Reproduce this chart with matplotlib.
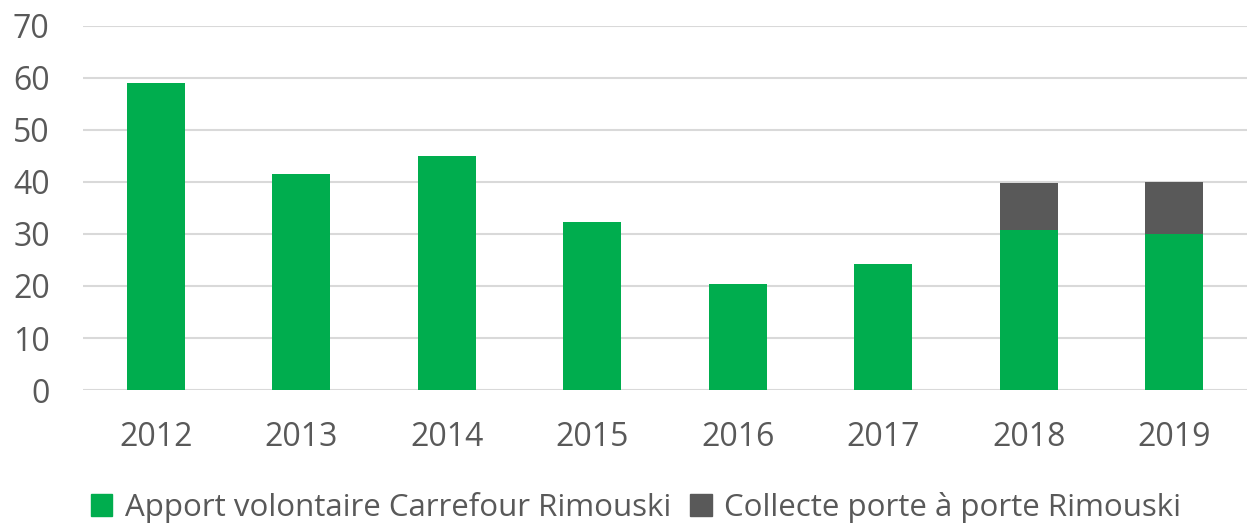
import matplotlib
matplotlib.use("Agg")
import matplotlib.pyplot as plt
import numpy as np
from matplotlib.patches import Patch

plt.rcParams['font.family'] = ['Open Sans', 'DejaVu Sans']

years = ["2012", "2013", "2014", "2015", "2016", "2017", "2018", "2019"]
apport = [59.0, 41.5, 44.9, 32.3, 20.4, 24.2, 30.7, 29.9]
collecte = [0, 0, 0, 0, 0, 0, 9.0, 10.0]
series_names = ["Apport volontaire Carrefour Rimouski", "Collecte porte à porte Rimouski"]
yticks = [0, 10, 20, 30, 40, 50, 60, 70]

green = "#00AD4E"
grey = "#595959"
txt = "#595959"

fig = plt.figure(figsize=(12.47, 5.25), dpi=100)
ax = fig.add_axes([0.0666, 0.257, 0.9334, 0.694])

x = np.arange(len(years))
ax.bar(x, apport, width=0.4, color=green, zorder=3)
ax.bar(x, collecte, width=0.4, bottom=apport, color=grey, zorder=3)

ax.set_ylim(0, 70)
ax.set_xlim(-0.5, len(years) - 0.5)
ax.set_yticks(yticks)
ax.set_xticks(x)
ax.set_xticklabels(years)
ax.yaxis.grid(True, color="#D9D9D9", linewidth=1.5, zorder=0)
ax.set_axisbelow(True)
for s in ax.spines.values():
    s.set_visible(False)
ax.tick_params(axis='both', length=0, labelsize=23, labelcolor=txt)
ax.tick_params(axis='y', pad=24)
ax.tick_params(axis='x', pad=22)

handles = [Patch(color=green), Patch(color=grey)]
fig.legend(handles, series_names, loc='center', bbox_to_anchor=(0.51, 0.034),
           ncol=2, frameon=False, fontsize=22.5, labelcolor=txt,
           handlelength=0.7, handleheight=0.7, handletextpad=0.4, columnspacing=0.6)

fig.savefig("out.png", dpi=100)
